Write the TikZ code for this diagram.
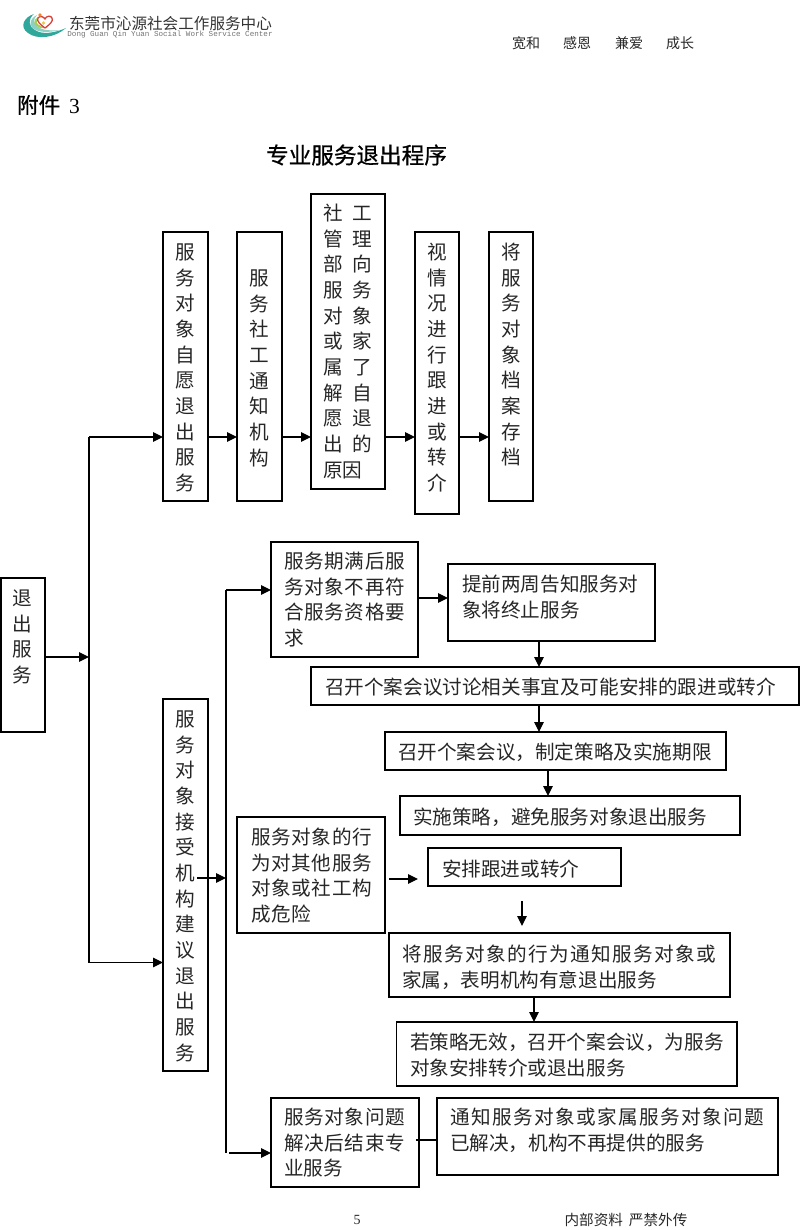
\documentclass[tikz,border=0pt]{standalone}
\usepackage{fontspec}
\usetikzlibrary{arrows.meta}
\setmainfont{Noto Sans CJK SC}
\newfontfamily\cjkA{Noto Sans CJK SC}[LetterSpace=3.5]
\newfontfamily\cjkB{Noto Sans CJK SC}[LetterSpace=7.5]
\newfontfamily\titlefont{Noto Sans CJK SC}[FakeBold=0.8]
\newfontfamily\latinserif{Liberation Serif}
\newfontfamily\latinmono{Liberation Mono}
\definecolor{inktext}{HTML}{262626}
\definecolor{logoteal}{HTML}{2FA79B}
\definecolor{logolight}{HTML}{8CD0C4}
\definecolor{logogreen}{HTML}{A6CE5B}
\definecolor{logoyellow}{HTML}{EFC94C}
\definecolor{logored}{HTML}{D8413A}
\definecolor{logoorange}{HTML}{EE8A2E}
\tikzset{
  boxn/.style={draw=black,line width=1.1pt,inner sep=0pt,outer sep=0pt,anchor=north west,text=inktext},
  conn/.style={draw=black,line width=1.1pt},
  arr/.style={conn,-{Triangle[length=10pt,width=9.5pt]}},
  plaintext/.style={inner sep=0pt,text=inktext}
}
% name, x1, y1, x2, y2, text-left, first-line-centre, text
\newcommand{\bx}[8]{%
  \node[boxn] (#1) at (#2,#3) {\parbox[c][\dimexpr#5pt-#3pt\relax][t]{\dimexpr#4pt-#2pt\relax}{%
    \fontsize{19.6}{25.67}\selectfont\raggedright\leftskip=\dimexpr#6pt-#2pt\relax\parindent=0pt
    \vspace*{\dimexpr#7pt-#3pt-10.4pt\relax}\strut #8}};%
}
\begin{document}
\begin{tikzpicture}[x=1pt,y=-1pt]
\useasboundingbox (0,0) rectangle (800,1230);
% logo
\fill[logoteal] (34,14) .. controls (24,17) and (19,27) .. (28,33) .. controls (37,40) and (55,38) .. (66,28) .. controls (55,33) and (42,35) .. (35,30) .. controls (28,26) and (28,19) .. (34,14);
\fill[logolight] (37,15) .. controls (29,19) and (28,27) .. (36,30) .. controls (42,33) and (52,32) .. (60,30) .. controls (50,31) and (42,30) .. (38,27) .. controls (33,24) and (33,19) .. (37,15);
\fill[logogreen] (38,17) .. controls (33,20) and (33,25) .. (38,27) .. controls (41,29) and (45,28) .. (48,28) .. controls (43,27) and (39,26) .. (37,23) .. controls (36,21) and (37,19) .. (38,17);
\draw[logored,line width=1.3pt] (45,28) .. controls (41,25) and (36,21) .. (38,18) .. controls (40,15) and (44,17) .. (45,19) .. controls (46,16) and (51,15) .. (52,18) .. controls (54,21) and (49,25) .. (45,28);
\fill[logoyellow] (43.5,23) circle (1.8);
\fill[logoorange] (40,15) circle (1.8);
\node[plaintext,anchor=center,text=black!80] (logocn) at (170.5,24) {\fontsize{15.6}{16}\selectfont 东莞市沁源社会工作服务中心};
\node[plaintext,anchor=center,text=black!55] (logoen) at (170,35) {\latinmono\fontsize{7.6}{8}\selectfont Dong Guan Qin Yuan Social Work Service Center};
% header
\node[plaintext] (m1) at (526,43) {\fontsize{14}{15}\selectfont 宽和};
\node[plaintext] (m2) at (577,43) {\fontsize{14}{15}\selectfont 感恩};
\node[plaintext] (m3) at (629,43) {\fontsize{14}{15}\selectfont 兼爱};
\node[plaintext] (m4) at (680,43) {\fontsize{14}{15}\selectfont 成长};
\node[plaintext,anchor=west,text=black] (fujian) at (17,105) {\titlefont\fontsize{21.5}{22}\selectfont 附件\hspace{9pt}{\latinserif 3}};
\node[plaintext,text=black] (title) at (356.5,155) {\titlefont\fontsize{22.6}{24}\selectfont 专业服务退出程序};
% top row
\bx{a1}{163}{232}{208}{501}{175.5}{252}{服\\务\\对\\象\\自\\愿\\退\\出\\服\\务}
\bx{a2}{237}{232}{282}{501}{249.5}{278}{服\\务\\社\\工\\通\\知\\机\\构}
\bx{a3}{311}{194}{385}{489}{323}{213}{\makebox[49pt][s]{社\hfill 工}\\\makebox[49pt][s]{管\hfill 理}\\\makebox[49pt][s]{部\hfill 向}\\\makebox[49pt][s]{服\hfill 务}\\\makebox[49pt][s]{对\hfill 象}\\\makebox[49pt][s]{或\hfill 家}\\\makebox[49pt][s]{属\hfill 了}\\\makebox[49pt][s]{解\hfill 自}\\\makebox[49pt][s]{愿\hfill 退}\\\makebox[49pt][s]{出\hfill 的}\\原因}
\bx{a4}{415}{232}{459}{514}{427}{252}{视\\情\\况\\进\\行\\跟\\进\\或\\转\\介}
\bx{a5}{489}{232}{533}{501}{501}{252}{将\\服\\务\\对\\象\\档\\案\\存\\档}
% left
\bx{tui}{1}{578}{45}{732}{13}{598}{退\\出\\服\\务}
\bx{b}{163}{699}{208}{1071}{175.5}{719}{服\\务\\对\\象\\接\\受\\机\\构\\建\\议\\退\\出\\服\\务}
% upper branch
\bx{c1}{271}{542}{418}{657}{284}{561}{\cjkA 服务期满后服\\务对象不再符\\合服务资格要\\求}
\bx{f1}{448}{564}{655}{641}{462}{584}{提前两周告知服务对\\象将终止服务}
\bx{g1}{311}{667}{799}{705}{325}{687}{召开个案会议讨论相关事宜及可能安排的跟进或转介}
\bx{g2}{385}{732}{726}{770}{398}{752}{召开个案会议，制定策略及实施期限}
\bx{g3}{400}{796}{740}{835}{413}{817}{实施策略，避免服务对象退出服务}
% middle branch
\bx{h}{237}{817}{385}{933}{251}{837}{\cjkA 服务对象的行\\为对其他服务\\对象或社工构\\成危险}
\bx{i}{428}{848}{621}{886}{442}{869}{安排跟进或转介}
\bx{d1}{389}{933}{730}{997}{402}{954}{{\cjkB 将服务对象的行为通知服务对象或}\\家属，表明机构有意退出服务}
\bx{d2}{396.5}{1022}{737}{1086}{410}{1042}{若策略无效，召开个案会议，为服务\\对象安排转介或退出服务}
% lower branch
\bx{e1}{271}{1098}{419}{1187}{284}{1117}{{\cjkA 服务对象问题}\\{\cjkA 解决后结束专}\\业服务}
\bx{e2}{437}{1098}{778}{1175}{450}{1117}{{\cjkB 通知服务对象或家属服务对象问题}\\已解决，机构不再提供的服务}
% footer
\node[plaintext] (pageno) at (357,1220) {\latinserif\fontsize{14}{15}\selectfont 5};
\node[plaintext] (secret) at (626,1220) {\fontsize{14.6}{15}\selectfont 内部资料\hspace{6pt}严禁外传};
% junctions
\coordinate (j0) at (89,657);
\coordinate (jt) at (89,437);
\coordinate (jb) at (89,962.5);
\coordinate (k0s) at (197,878);
\coordinate (k0) at (226,878);
\coordinate (kt) at (226,590);
\coordinate (kb) at (226,1153);
\coordinate (ke) at (229,1153);
\coordinate (hs) at (389,879);
\coordinate (he) at (418,879);
\coordinate (fs) at (522,901);
\coordinate (fe) at (522,926);
\coordinate (es) at (416,1140);
% connectors
\draw[arr] (tui.east |- j0) -- (j0);
\draw[conn] (jt) -- (jb);
\draw[arr] (jt) -- (a1.west |- jt);
\draw[arr] (a1.east |- jt) -- (a2.west |- jt);
\draw[arr] (a2.east |- jt) -- (a3.west |- jt);
\draw[arr] (a3.east |- jt) -- (a4.west |- jt);
\draw[arr] (a4.east |- jt) -- (a5.west |- jt);
\draw[arr] (jb) -- (b.west |- jb);
\draw[arr] (k0s) -- (k0);
\draw[conn] (kt) -- (kb);
\draw[arr] (kt) -- (c1.west |- kt);
\draw[arr] (ke) -- (e1.west |- ke);
\draw[arr] (c1.east |- 0,598) -- (f1.west |- 0,598);
\draw[arr] (f1.south -| 539,0) -- (g1.north -| 539,0);
\draw[arr] (g1.south -| 539,0) -- (g2.north -| 539,0);
\draw[arr] (g2.south -| 548,0) -- (g3.north -| 548,0);
\draw[arr] (hs) -- (he);
\draw[arr] (fs) -- (fe);
\draw[arr] (d1.south -| 534,0) -- (d2.north -| 534,0);
\draw[conn] (es) -- (e2.west |- es);
\end{tikzpicture}
\end{document}
